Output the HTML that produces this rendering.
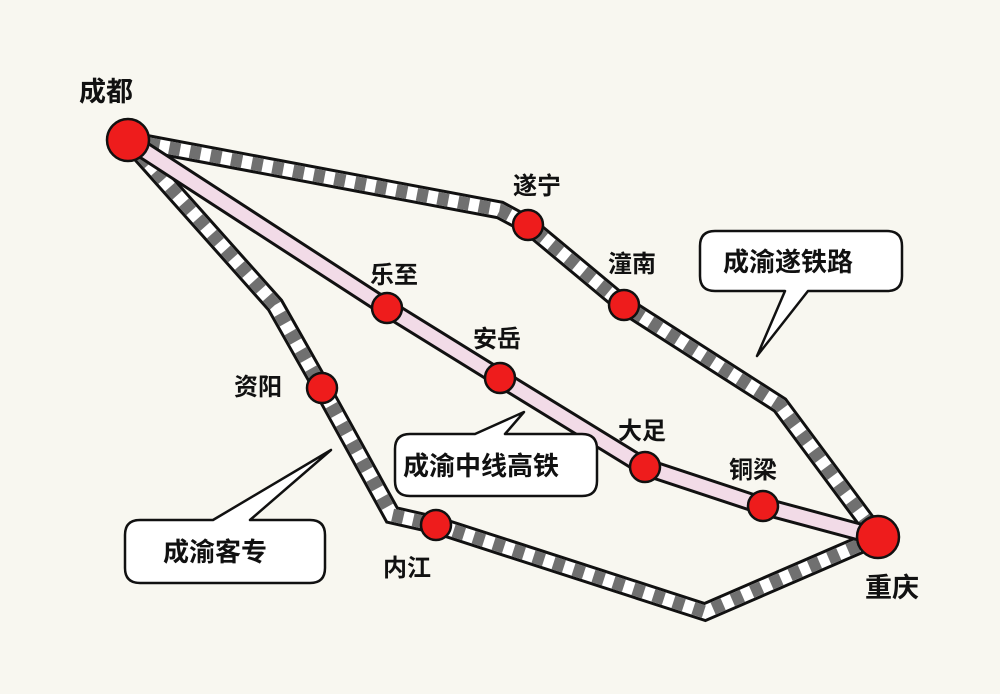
<!DOCTYPE html>
<html><head><meta charset="utf-8"><style>
html,body{margin:0;padding:0;background:#f8f7f0;}
svg{display:block}
text{font-family:"Liberation Sans","Noto Sans CJK SC",sans-serif;font-weight:bold;fill:#111}
</style></head><body>
<svg width="1000" height="694" viewBox="0 0 1000 694" xmlns="http://www.w3.org/2000/svg">
<rect width="1000" height="694" fill="#f8f7f0"/>
<g fill="none" stroke-linejoin="miter">
<polyline points="128,140 500,210 528,225 624,305 780,405 878,537" stroke="#111" stroke-width="19"/>
<polyline points="128,140 500,210 528,225 624,305 780,405 878,537" stroke="#fff" stroke-width="13"/>
<polyline points="128,140 500,210 528,225 624,305 780,405 878,537" stroke="#707070" stroke-width="13" stroke-dasharray="11 10"/>
<polyline points="128,140 275,305 322,388 392,515 436,525 705,612 878,537" stroke="#111" stroke-width="19"/>
<polyline points="128,140 275,305 322,388 392,515 436,525 705,612 878,537" stroke="#fff" stroke-width="13"/>
<polyline points="128,140 275,305 322,388 392,515 436,525 705,612 878,537" stroke="#707070" stroke-width="13" stroke-dasharray="11 10"/>
<polyline points="128,140 387,308 500,378 645,467 763,506 878,537" stroke="#111" stroke-width="19"/>
<polyline points="128,140 387,308 500,378 645,467 763,506 878,537" stroke="#f2dbe7" stroke-width="13"/>
</g>
<g fill="#ee1c1c" stroke="#111" stroke-width="2.5">
<circle cx="128" cy="140" r="21"/>
<circle cx="878" cy="537" r="21"/>
<circle cx="528" cy="225" r="15"/>
<circle cx="624" cy="305" r="15"/>
<circle cx="387" cy="308" r="15"/>
<circle cx="500" cy="378" r="15"/>
<circle cx="645" cy="467" r="15"/>
<circle cx="763" cy="506" r="15"/>
<circle cx="322" cy="388" r="15"/>
<circle cx="436" cy="525" r="15"/>
</g>
<g fill="#fff" stroke="#111" stroke-width="2.5" stroke-linejoin="round">
<path d="M715,231 H887 Q902,231 902,246 V276 Q902,291 887,291 H808 L757,356 L785,291 H715 Q700,291 700,276 V246 Q700,231 715,231 Z"/>
<path d="M410,434 H475 L524,412 L505,434 H582 Q597,434 597,449 V481 Q597,496 582,496 H410 Q395,496 395,481 V449 Q395,434 410,434 Z"/>
<path d="M140,520 H213 L331,450 L250,520 H310 Q325,520 325,535 V568 Q325,583 310,583 H140 Q125,583 125,568 V535 Q125,520 140,520 Z"/>
</g>
<g font-size="26">
<text x="723" y="271">成渝遂铁路</text>
<text x="403" y="475">成渝中线高铁</text>
<text x="163" y="561">成渝客专</text>
</g>
<g font-size="24">
<text x="79" y="101" font-size="27">成都</text>
<text x="865" y="597" font-size="27">重庆</text>
<text x="513" y="194">遂宁</text>
<text x="608" y="272">潼南</text>
<text x="370" y="283">乐至</text>
<text x="473" y="347">安岳</text>
<text x="618" y="439">大足</text>
<text x="729" y="478">铜梁</text>
<text x="234" y="395">资阳</text>
<text x="383" y="576">内江</text>
</g>
</svg>
</body></html>
